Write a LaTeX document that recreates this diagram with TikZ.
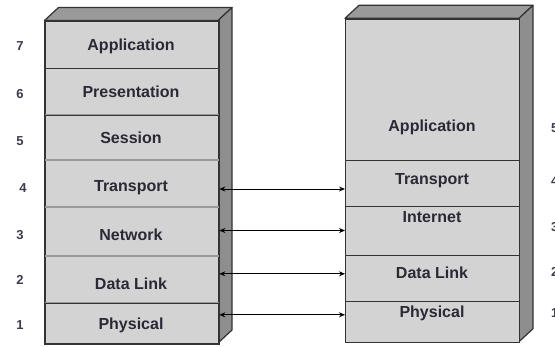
\documentclass[tikz,border=0pt]{standalone}
\usepackage{fontspec}
\setmainfont{Liberation Sans}
\usetikzlibrary{arrows.meta}
\definecolor{facec}{HTML}{D3D3D3}
\definecolor{sidec}{HTML}{8E8E8E}
\definecolor{topc}{HTML}{9A9A9A}
\definecolor{edgec}{HTML}{333333}
\definecolor{txtc}{HTML}{2A2A36}
\definecolor{numc}{HTML}{3C3C4C}
\tikzset{
  layerbox/.style={draw=edgec, fill=facec, line width=1.3pt, rectangle, inner sep=0pt, anchor=north west, minimum width=#1},
  layerbox/.default=173.5pt,
  lbl/.style={text=txtc, font=\fontsize{16}{18}\selectfont\bfseries, inner sep=0pt},
  num/.style={text=numc, font=\fontsize{13}{15}\selectfont\bfseries, inner sep=0pt},
  sidef/.style={fill=sidec, draw=edgec, line width=1.2pt, line join=round},
  topf/.style={fill=topc, draw=edgec, line width=1.2pt, line join=round},
  arr/.style={{Stealth[length=6pt,width=5pt]}-{Stealth[length=6pt,width=5pt]}, line width=1pt, black},
  softsep/.style={draw=gray!80, line width=1.6pt}
}
\begin{document}
\begin{tikzpicture}[x=1pt,y=-1pt]
\useasboundingbox (0,0) rectangle (555,346);
% ---------- left stack (OSI) ----------
\path[topf] (44.5,20.5) -- (58.5,7.5) -- (232,7.5) -- (218,20.5) -- cycle;
\path[sidef] (218,20.5) -- (232,7.5) -- (232,330) -- (218,343) -- cycle;
\node[layerbox, minimum height=47.2pt] (l7) at (44.5,20.5) {};
\node[layerbox, minimum height=46.6pt] (l6) at (44.5,67.7) {};
\node[layerbox, minimum height=45.7pt] (l5) at (44.5,114.3) {};
\node[layerbox, minimum height=46.7pt] (l4) at (44.5,160) {};
\node[layerbox, minimum height=49.3pt] (l3) at (44.5,206.7) {};
\node[layerbox, minimum height=46.3pt] (l2) at (44.5,256) {};
\node[layerbox, minimum height=40.7pt] (l1) at (44.5,302.3) {};
\draw[softsep] (l5.north west) -- (l5.north east);
\draw[softsep] (l4.north west) -- (l4.north east);
\draw[softsep] (l3.north west) -- (l3.north east);
\draw[softsep] (l2.north west) -- (l2.north east);
\draw[softsep] (l1.north west) -- (l1.north east);
\draw[draw=edgec, line width=1.3pt] (l7.north west) rectangle (l1.south east);
\node[lbl] (t7) at (131,46.7) {Application};
\node[lbl] (t6) at (131,92) {Presentation};
\node[lbl] (t5) at (131,138) {Session};
\node[lbl] (t4) at (131,188) {Transport};
\node[lbl] (t3) at (131,235) {Network};
\node[lbl] (t2) at (131,284) {Data Link};
\node[lbl] (t1) at (131,325) {Physical};
\node[num] (n7) at (20,46) {7};
\node[num] (n6) at (20,94) {6};
\node[num] (n5) at (20,141) {5};
\node[num] (n4) at (23,188) {4};
\node[num] (n3) at (20,235) {3};
\node[num] (n2) at (20,280) {2};
\node[num] (n1) at (20,325) {1};
% ---------- right stack (TCP/IP) ----------
\path[topf] (345,18.3) -- (359,5.3) -- (533,5.3) -- (519,18.3) -- cycle;
\path[sidef] (519,18.3) -- (533,5.3) -- (533,328.7) -- (519,341.7) -- cycle;
\node[layerbox=174pt, minimum height=141.7pt] (r5) at (345,18.3) {};
\node[layerbox=174pt, minimum height=46pt] (r4) at (345,160) {};
\node[layerbox=174pt, minimum height=49pt] (r3) at (345,206) {};
\node[layerbox=174pt, minimum height=46pt] (r2) at (345,255) {};
\node[layerbox=174pt, minimum height=40.7pt] (r1) at (345,301) {};
\node[lbl] (s5) at (432,127.7) {Application};
\node[lbl] (s4) at (432,180.7) {Transport};
\node[lbl] (s3) at (432,217) {Internet};
\node[lbl] (s2) at (432,272.7) {Data Link};
\node[lbl] (s1) at (432,313.3) {Physical};
\node[num, anchor=west] (m5) at (551,128) {5};
\node[num, anchor=west] (m4) at (551,181) {4};
\node[num, anchor=west] (m3) at (551,227) {3};
\node[num, anchor=west] (m2) at (551,272) {2};
\node[num, anchor=west] (m1) at (551,313) {1};
% ---------- connectors ----------
\draw[arr] ([yshift=-5pt]l4.east) -- ([yshift=-5pt]r4.west |- l4.east);
\draw[arr] ([yshift=1.5pt]l3.east) -- ([yshift=1.5pt]r3.west |- l3.east);
\draw[arr] ([yshift=6pt]l2.east) -- ([yshift=6pt]r2.west |- l2.east);
\draw[arr] ([yshift=8.5pt]l1.east) -- ([yshift=8.5pt]r1.west |- l1.east);
\end{tikzpicture}
\end{document}
